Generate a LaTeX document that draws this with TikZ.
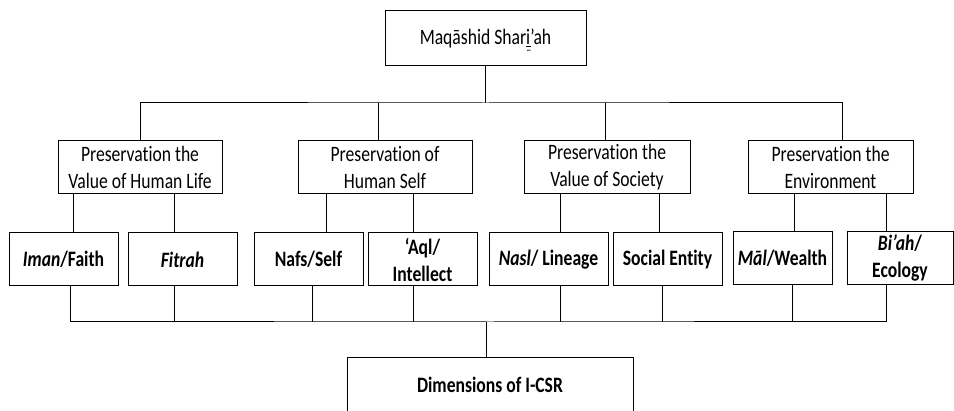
\documentclass[tikz,border=0pt]{standalone}
\usepackage{fontspec}
\setmainfont{Carlito}[FakeStretch=0.8, Ligatures=NoCommon]

% i with the mark under it, as in the title
\newcommand{\imark}{\rlap{\rule[-2.5pt]{0.23em}{0.9pt}}%
  \rlap{\raisebox{-9pt}[0pt][0pt]{\makebox[0.23em]{\fontsize{10}{10}\selectfont\textasciitilde}}}i}

\begin{document}
\begin{tikzpicture}
  [x=1pt, y=-1pt, line width=1pt,
   every node/.style={draw, inner sep=0pt, align=center,
                      font=\fontsize{22}{27}\selectfont},
   lvl1/.style={minimum height=53pt},
   lvl2/.style={minimum height=53pt, font=\fontsize{22}{27}\selectfont\bfseries}]

  \useasboundingbox (0,0) rectangle (954,411);
  \clip (0,0) rectangle (954,411);

  \node[minimum width=201pt, minimum height=55pt] (root) at (485.5,38.5) {Maq\=ashid Shar\imark’ah};

  \node[lvl1, minimum width=164pt] (life) at (140,167.5) {Preservation the\\Value of Human Life};
  \node[lvl1, minimum width=174pt] (self) at (385,167.5) {Preservation of\\Human Self};
  \node[lvl1, minimum width=166pt] (society) at (607,167.5) {Preservation the\\Value of Society};
  \node[lvl1, minimum width=165pt] (envir) at (830.5,167.5) {Preservation the\\Environment};

  \node[lvl2, minimum width=109pt] (iman) at (63.5,259.5) {\textit{Iman}/Faith};
  \node[lvl2, minimum width=109pt] (fitrah) at (182.5,259.5) {\textit{Fitrah}};
  \node[lvl2, minimum width=109pt] (nafs) at (308.5,259.5) {Nafs/Self};
  \node[lvl2, minimum width=109pt] (aql) at (422.5,259.5) {‘Aql/\\Intellect};
  \node[lvl2, minimum width=119pt] (nasl) at (548.5,259.5) {\textit{Nasl}/ Lineage};
  \node[lvl2, minimum width=109pt] (social) at (667.5,259.5) {Social Entity};
  \node[lvl2, minimum width=99pt] (mal) at (782.5,258) {\textit{M\=al}/Wealth};
  \node[lvl2, minimum width=106pt] (biah) at (900,258) {\textit{Bi’ah}/\\Ecology};

  \node[lvl2, minimum width=286pt, minimum height=80pt, text depth=27pt] (dim) at (490,398) {Dimensions of I-CSR};

  % top level
  \draw (root.south) -- (root.south |- 0,103) coordinate (bus);
  \draw (life.north) |- (bus) -| (envir.north -| 842,0);
  \draw (self.north -| 378,0) -- (378,103);
  \draw (society.north -| 605,0) -- (605,103);

  % second level
  \draw (life.south -| 73,0) -- (iman.north -| 73,0);
  \draw (life.south -| 174,0) -- (fitrah.north -| 174,0);
  \draw (self.south -| 326,0) -- (nafs.north -| 326,0);
  \draw (self.south -| 413,0) -- (aql.north -| 413,0);
  \draw (society.south -| 560,0) -- (nasl.north -| 560,0);
  \draw (society.south -| 659,0) -- (social.north -| 659,0);
  \draw (envir.south -| 794,0) -- (mal.north -| 794,0);
  \draw (envir.south -| 886,0) -- (biah.north -| 886,0);

  % bottom bus
  \draw (iman.south -| 70,0) |- (dim.north |- 0,322) -| (biah.south -| 886,0);
  \draw (fitrah.south -| 174,0) -- (174,322);
  \draw (nafs.south -| 312,0) -- (312,322);
  \draw (aql.south -| 413,0) -- (413,322);
  \draw (nasl.south -| 560,0) -- (560,322);
  \draw (social.south -| 662,0) -- (662,322);
  \draw (mal.south -| 792,0) -- (792,322);
  \draw (dim.north -| 486,0) -- (486,322);
\end{tikzpicture}
\end{document}
